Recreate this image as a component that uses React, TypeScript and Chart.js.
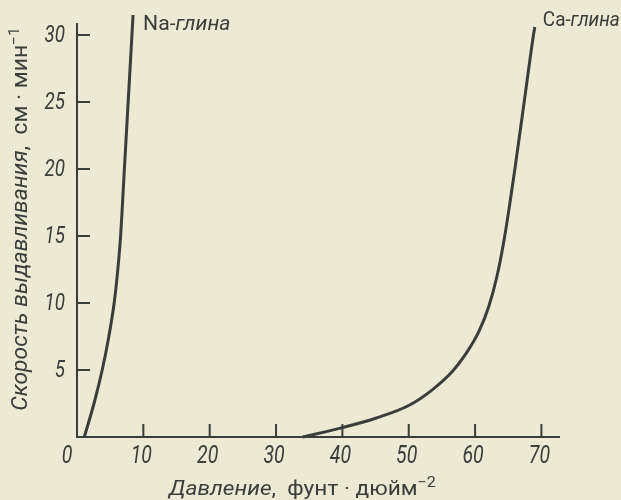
import React, { useEffect, useRef } from "react";
import { Chart, registerables } from "chart.js";

Chart.register(...registerables);

// ---- data ----
const naPressure = [1.1, 2.56, 3.8, 4.8, 5.6, 6.15, 6.57, 7.14, 7.71, 8.28, 8.45];
const naRate = [0, 2.5, 5, 7.5, 10, 12.5, 15, 20, 25, 30, 31.5];
const caPressure = [34, 40, 45, 50, 53.5, 56.6, 58.6, 60.6, 62.1, 63.3, 64.3, 65.2, 66.0, 67.4, 68.8, 69.0];
const caRate = [0, 0.7, 1.4, 2.35, 3.5, 4.9, 6.2, 7.9, 9.8, 12.0, 14.5, 17.3, 20, 25, 30, 30.6];
const xTickValues = [10, 20, 30, 40, 50, 60, 70];
const yTickValues = [5, 10, 15, 20, 25, 30];
const seriesNames = ["Na", "Ca"];

const INK = "#393e39";
const BG = "#ece9d5";

type Seg = { text: string; font: string; dy?: number };

function drawRich(
  ctx: CanvasRenderingContext2D,
  segs: Seg[],
  x: number,
  y: number,
  align: "left" | "center" | "right",
  sx: number
) {
  ctx.save();
  ctx.textBaseline = "alphabetic";
  ctx.textAlign = "left";
  const widths = segs.map((s) => {
    ctx.font = s.font;
    return ctx.measureText(s.text).width * sx;
  });
  const total = widths.reduce((a, b) => a + b, 0);
  let cx = align === "left" ? x : align === "center" ? x - total / 2 : x - total;
  segs.forEach((s, i) => {
    ctx.font = s.font;
    ctx.save();
    ctx.translate(cx, y + (s.dy || 0));
    ctx.scale(sx, 1);
    ctx.fillText(s.text, 0, 0);
    ctx.restore();
    cx += widths[i];
  });
  ctx.restore();
}

const axesPlugin = {
  id: "bookAxes",
  afterDatasetsDraw(chart: any) {
    const ctx: CanvasRenderingContext2D = chart.ctx;
    const xs = chart.scales.x;
    const ys = chart.scales.y;
    const x0 = xs.getPixelForValue(0);
    const y0 = ys.getPixelForValue(0);
    ctx.save();
    ctx.strokeStyle = INK;
    ctx.fillStyle = INK;
    ctx.lineWidth = 2;
    ctx.lineCap = "butt";
    // axis lines
    ctx.beginPath();
    ctx.moveTo(x0, ys.getPixelForValue(30.9));
    ctx.lineTo(x0, y0);
    ctx.lineTo(xs.getPixelForValue(72.8), y0);
    ctx.stroke();
    // ticks (inward)
    ctx.beginPath();
    yTickValues.forEach((v) => {
      const py = ys.getPixelForValue(v);
      ctx.moveTo(x0, py);
      ctx.lineTo(x0 + 13, py);
    });
    xTickValues.forEach((v) => {
      const px = xs.getPixelForValue(v);
      ctx.moveTo(px, y0);
      ctx.lineTo(px, y0 - 13);
    });
    ctx.stroke();

    const family = "Roboto, 'DejaVu Sans', sans-serif";
    // tick labels
    yTickValues.forEach((v) => {
      const py = ys.getPixelForValue(v);
      drawRich(ctx, [{ text: String(v), font: `italic 23.5px ${family}` }], x0 - 12, py + 7, "right", 0.8);
    });
    xTickValues.forEach((v) => {
      const px = xs.getPixelForValue(v);
      drawRich(ctx, [{ text: String(v), font: `italic 25px ${family}` }], px - 2, y0 + 26, "center", 0.78);
    });
    drawRich(ctx, [{ text: "0", font: `italic 25px ${family}` }], x0 - 10, y0 + 26, "center", 0.78);

    // x axis title
    drawRich(
      ctx,
      [
        { text: "Давление", font: `italic 21px ${family}` },
        { text: ",  фунт · дюйм", font: `21px ${family}` },
        { text: "−2", font: `15px ${family}`, dy: -8 },
      ],
      (xs.getPixelForValue(0) + xs.getPixelForValue(72.8)) / 2 - 16,
      495,
      "center",
      1.08
    );

    // y axis title (rotated)
    ctx.save();
    ctx.translate(27, (ys.getPixelForValue(0) + ys.getPixelForValue(31.5)) / 2 - 7);
    ctx.rotate(-Math.PI / 2);
    drawRich(
      ctx,
      [
        { text: "Скорость выдавливания", font: `italic 22px ${family}` },
        { text: ",  см · мин", font: `22px ${family}` },
        { text: "−1", font: `15px ${family}`, dy: -8 },
      ],
      0,
      0,
      "center",
      1.04
    );
    ctx.restore();

    // curve labels
    const naTopX = xs.getPixelForValue(naPressure[naPressure.length - 1]);
    const naTopY = ys.getPixelForValue(naRate[naRate.length - 1]);
    drawRich(
      ctx,
      [
        { text: seriesNames[0], font: `20px ${family}` },
        { text: "-глина", font: `italic 20px ${family}` },
      ],
      naTopX + 10,
      naTopY + 15,
      "left",
      1.06
    );
    const caTopX = xs.getPixelForValue(caPressure[caPressure.length - 1]);
    const caTopY = ys.getPixelForValue(caRate[caRate.length - 1]);
    drawRich(
      ctx,
      [
        { text: seriesNames[1], font: `20px ${family}` },
        { text: "-глина", font: `italic 20px ${family}` },
      ],
      caTopX + 8,
      caTopY - 1,
      "left",
      0.95
    );
    ctx.restore();
  },
};

export default function App() {
  const ref = useRef<HTMLCanvasElement | null>(null);
  useEffect(() => {
    if (!ref.current) return;
    const toPts = (xs: number[], ys: number[]) => xs.map((x, i) => ({ x, y: ys[i] }));
    const chart = new Chart(ref.current, {
      type: "scatter",
      data: {
        datasets: [
          {
            label: seriesNames[0] + "-глина",
            data: toPts(naPressure, naRate),
            showLine: true,
            borderColor: INK,
            borderWidth: 3,
            pointRadius: 0,
            tension: 0.4,
            clip: false as any,
          },
          {
            label: seriesNames[1] + "-глина",
            data: toPts(caPressure, caRate),
            showLine: true,
            borderColor: INK,
            borderWidth: 3,
            pointRadius: 0,
            cubicInterpolationMode: "monotone",
            clip: false as any,
          },
        ],
      },
      options: {
        animation: false,
        responsive: false,
        devicePixelRatio: 1,
        layout: { padding: { top: 15, right: 61, left: 0, bottom: 0 } },
        plugins: { legend: { display: false }, tooltip: { enabled: false } },
        scales: {
          x: {
            type: "linear",
            min: 0,
            max: 72.8,
            grid: { display: false },
            border: { display: false },
            ticks: { display: false },
            afterFit: (s: any) => {
              s.height = 63;
            },
          },
          y: {
            type: "linear",
            min: 0,
            max: 31.5,
            grid: { display: false },
            border: { display: false },
            ticks: { display: false },
            afterFit: (s: any) => {
              s.width = 77;
            },
          },
        },
      },
      plugins: [axesPlugin],
    });
    return () => chart.destroy();
  }, []);
  return (
    <div
      style={{
        position: "fixed",
        left: 0,
        top: 0,
        width: 621,
        height: 500,
        background: BG,
      }}
    >
      <canvas ref={ref} width={621} height={500} style={{ display: "block" }} />
    </div>
  );
}
